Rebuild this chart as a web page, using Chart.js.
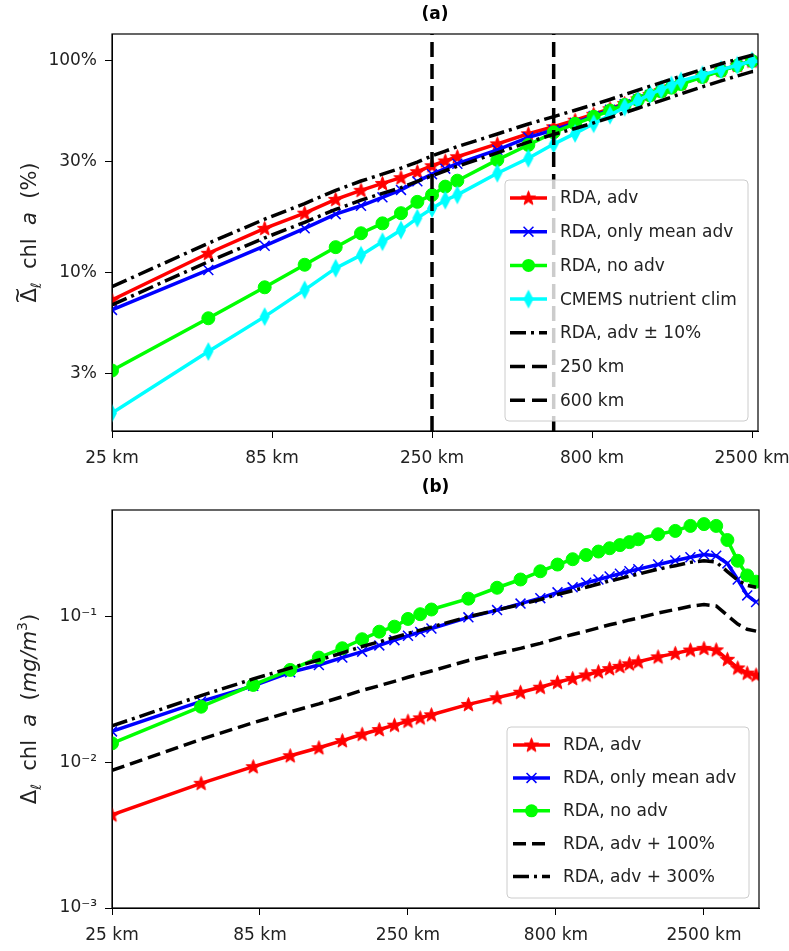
<!DOCTYPE html>
<html lang="en">
<head>
  <meta charset="UTF-8">
  <title>RDA chl a variability vs scale</title>
  <script src="https://cdn.jsdelivr.net/npm/chart.js"></script>
  <style>
   body   { margin: 0; background: #fff; }
   canvas { display: block; }
  </style>
</head>
<body>
  <canvas id="chartA" width="789" height="470"></canvas>
  <canvas id="chartB" width="789" height="481"></canvas>

<script>
// ---- panel (a): normalised chl a variability (%) ----
const kmA         = [25,50,75,100,125,150,175,200,225,250,275,300,400,500,600,700,800,900,1000,1100,1200,1300,1400,1500,1750,2000,2250,2500,2750];
const advA        = [7.43,12.35,16.2,19.1,22.2,24.5,26.4,28.1,30.0,32.0,33.7,35.3,40.6,45.3,48.9,52.5,56.0,59.5,63.0,66.3,69.5,72.5,75.5,78.3,85.0,90.5,95.5,100,98];
const meanAdvA    = [6.67,10.3,13.4,16.2,18.9,20.7,22.7,24.6,27.0,29.2,31.0,32.7,38.0,43.6,47.2,51.0,55.0,58.8,62.5,65.8,69.0,72.0,75.0,78.0,84.5,90.0,95.3,100,98];
const noAdvA      = [3.45,6.09,8.53,10.9,13.2,15.35,17.1,19.1,21.6,23.3,25.5,27.2,34.1,40.1,46.0,50.5,54.5,58.3,62.0,65.5,68.8,71.8,74.8,77.8,84.0,89.8,95.0,100,97];
const cmemsA      = [2.17,4.24,6.2,8.29,10.5,12.1,14.0,15.9,18.1,20.1,22.0,23.3,29.5,34.7,40.5,45.5,50.5,55.5,60.5,65.0,69.5,73.5,77.0,80.5,86.0,91.0,95.5,100,99];
const advPlus10A  = [8.59,13.77,17.9,21.2,24.5,27.1,29.2,31.2,33.3,35.6,37.5,39.4,45.2,50.4,54.6,58.5,62.2,65.8,69.4,72.8,76.0,79.0,82.0,84.7,91.3,97.0,102.0,106.5,108];
const advMinus10A = [7.04,11.27,14.6,17.3,19.9,22.0,23.7,25.2,27.0,28.7,30.3,31.8,36.8,41.4,45.0,48.0,51.0,54.0,57.0,59.8,62.5,65.0,67.5,70.0,75.5,80.5,85.0,89.0,90];
const vlineKm     = [250, 600];

// ---- panel (b): chl a variability (mg/m^3) ----
const kmB      = [25,50,75,100,125,150,175,200,225,250,275,300,400,500,600,700,800,900,1000,1100,1200,1300,1400,1500,1750,2000,2250,2500,2750,3000,3250,3500,3750];
const advB     = [0.00436,0.00718,0.00934,0.0111,0.0126,0.0141,0.0156,0.0168,0.0180,0.0192,0.0202,0.0212,0.0250,0.0278,0.0303,0.0328,0.0355,0.0377,0.0398,0.0419,0.0440,0.0456,0.0475,0.0490,0.0530,0.0560,0.0590,0.0606,0.0592,0.0510,0.0445,0.0410,0.0398];
const meanAdvB = [0.0163,0.0262,0.0335,0.0415,0.0466,0.0524,0.0575,0.0635,0.0690,0.0740,0.0785,0.0830,0.0990,0.111,0.123,0.134,0.147,0.159,0.171,0.180,0.189,0.197,0.205,0.212,0.228,0.243,0.256,0.267,0.262,0.232,0.180,0.140,0.126];
const noAdvB   = [0.0135,0.0241,0.0340,0.0431,0.0524,0.0607,0.0700,0.0789,0.0854,0.0965,0.104,0.112,0.133,0.158,0.180,0.205,0.228,0.248,0.265,0.280,0.295,0.310,0.325,0.340,0.368,0.388,0.420,0.432,0.420,0.336,0.242,0.192,0.174];
const adv100B  = [0.0088,0.0144,0.0187,0.0222,0.0252,0.0282,0.0312,0.0336,0.0360,0.0384,0.0404,0.0424,0.0500,0.0556,0.0606,0.0656,0.0710,0.0754,0.0796,0.0838,0.0880,0.0912,0.0950,0.0980,0.1060,0.1120,0.1180,0.1212,0.1184,0.1020,0.0890,0.0820,0.0796];
const adv300B  = [0.0178,0.0287,0.0374,0.0444,0.0504,0.0564,0.0624,0.0672,0.0720,0.0768,0.0808,0.0848,0.1000,0.1112,0.1212,0.1312,0.1420,0.1508,0.1592,0.1676,0.1760,0.1824,0.1900,0.1960,0.2120,0.2240,0.2360,0.2424,0.2368,0.2040,0.1780,0.1640,0.1592];

// ---- ticks and axis limits ----
const xTickVals    = [25, 79.06, 250, 790.6, 2500];
const xTickLabels  = ['25 km', '85 km', '250 km', '800 km', '2500 km'];
const yTickValsA   = [3.333, 10, 33.33, 100];
const yTickLabelsA = ['3%', '10%', '30%', '100%'];
const yTickValsB   = [0.001, 0.01, 0.1];
const yTickLabelsB = ['10\u207B\u00B3', '10\u207B\u00B2', '10\u207B\u00B9'];
const xLimA = [25, 2610], yLimA = [1.787, 134.1];
const xLimB = [25, 3836], yLimB = [0.001, 0.54];

const FONT = '"DejaVu Sans", "Liberation Sans", sans-serif';
const DASHDOT = [16, 5, 3, 5];
const LW = 3.5;

// small marker bitmaps for the matplotlib '*' and 'd' symbols
function starMarker(color, r) {
  const s = Math.ceil(2 * r + 2), c = document.createElement('canvas');
  c.width = s; c.height = s;
  const g = c.getContext('2d');
  g.translate(s / 2, s / 2 + 0.5); g.beginPath();
  for (let i = 0; i < 10; i++) {
    const rr = i % 2 ? r * 0.42 : r, a = -Math.PI / 2 + i * Math.PI / 5;
    g.lineTo(rr * Math.cos(a), rr * Math.sin(a));
  }
  g.closePath(); g.fillStyle = color; g.fill();
  g.strokeStyle = color; g.lineWidth = 1; g.stroke();
  return c;
}
function thinDiamond(color, w, h) {
  const c = document.createElement('canvas');
  c.width = w + 2; c.height = h + 2;
  const g = c.getContext('2d');
  g.beginPath(); g.moveTo(w / 2 + 1, 1); g.lineTo(w + 1, h / 2 + 1); g.lineTo(w / 2 + 1, h + 1); g.lineTo(1, h / 2 + 1); g.closePath();
  g.fillStyle = color; g.fill();
  return c;
}
const redStar  = starMarker('#ff0000', 7.5);
const cyanDiam = thinDiamond('#00ffff', 10, 19);

const pts = (xs, ys) => xs.map((x, i) => ({ x: x, y: ys[i] }));

function series(label, xs, ys, color, extra) {
  return Object.assign({
    label: label, data: pts(xs, ys), borderColor: color, backgroundColor: color,
    pointBackgroundColor: color, pointBorderColor: color, pointBorderWidth: 1,
    borderWidth: LW, pointRadius: 0, tension: 0, fill: false, clip: 0
  }, extra || {});
}

function logAxis(lim, vals, labels, fitSize, isX) {
  return {
    type: 'logarithmic', min: lim[0], max: lim[1], bounds: 'data',
    afterBuildTicks: s => { s.ticks = vals.map(v => ({ value: v })); },
    afterFit: s => {
      if (isX) { s.height = fitSize; s.paddingLeft = 0; s.paddingRight = 0; }
      else     { s.width = fitSize;  s.paddingTop = 0;  s.paddingBottom = 0; }
    },
    ticks: { autoSkip: false, maxRotation: 0, color: '#222', padding: isX ? 10 : 8,
             font: { family: FONT, size: 17 }, callback: (v, i) => labels[i] },
    grid: { drawOnChartArea: false, drawTicks: true, tickLength: 7, color: '#000', tickColor: '#000' },
    border: { display: true, color: '#000', width: 1 }
  };
}

// rotated y label with italic / sub / superscript / accent pieces
function drawYLabel(ctx, parts, x, y) {
  ctx.save();
  ctx.translate(x, y); ctx.rotate(-Math.PI / 2);
  ctx.textAlign = 'left'; ctx.textBaseline = 'alphabetic'; ctx.fillStyle = '#222';
  const fontOf = p => (p.italic ? 'italic ' : '') + (p.size || 21) + 'px ' + FONT;
  let total = 0;
  parts.forEach(p => { ctx.font = fontOf(p); total += ctx.measureText(p.t).width; });
  let cx = -total / 2;
  parts.forEach(p => {
    ctx.font = fontOf(p);
    const w = ctx.measureText(p.t).width;
    ctx.fillText(p.t, cx, 7 + (p.dy || 0));
    if (p.accent) {
      ctx.textAlign = 'center';
      ctx.fillText(p.accent, cx + w / 2, -5);
      ctx.textAlign = 'left';
    }
    cx += w;
  });
  ctx.restore();
}

function drawMarker(ctx, d, x, y) {
  const ps = d.pointStyle, r = d.pointRadius;
  if (ps instanceof HTMLCanvasElement) { ctx.drawImage(ps, x - ps.width / 2, y - ps.height / 2); return; }
  ctx.setLineDash([]);
  if (ps === 'circle') {
    ctx.fillStyle = d.pointBackgroundColor; ctx.beginPath(); ctx.arc(x, y, r, 0, 2 * Math.PI); ctx.fill();
  } else if (ps === 'crossRot') {
    const k = r * Math.SQRT1_2;
    ctx.strokeStyle = d.pointBorderColor; ctx.lineWidth = d.pointBorderWidth; ctx.beginPath();
    ctx.moveTo(x - k, y - k); ctx.lineTo(x + k, y + k); ctx.moveTo(x - k, y + k); ctx.lineTo(x + k, y - k); ctx.stroke();
  }
}

function drawLegend(chart, L) {
  const ctx = chart.ctx;
  const items = chart.data.datasets.filter(d => !d.noLegend);
  ctx.save();
  ctx.beginPath();
  if (ctx.roundRect) ctx.roundRect(L.x, L.y, L.w, L.h, 4); else ctx.rect(L.x, L.y, L.w, L.h);
  ctx.fillStyle = 'rgba(255,255,255,0.8)'; ctx.fill();
  ctx.strokeStyle = '#cccccc'; ctx.lineWidth = 1; ctx.stroke();
  ctx.font = '17px ' + FONT; ctx.textAlign = 'left'; ctx.textBaseline = 'middle';
  items.forEach((d, i) => {
    const cy = L.y + L.first + i * L.row;
    ctx.strokeStyle = d.borderColor; ctx.lineWidth = d.borderWidth; ctx.setLineDash(d.borderDash || []);
    ctx.beginPath(); ctx.moveTo(L.x + L.h0, cy); ctx.lineTo(L.x + L.h1, cy); ctx.stroke();
    if (d.pointRadius > 0) drawMarker(ctx, d, L.x + (L.h0 + L.h1) / 2, cy);
    ctx.setLineDash([]);
    ctx.fillStyle = '#222'; ctx.fillText(d.label, L.x + L.tx, cy + 1);
  });
  ctx.restore();
}

const decor = {
  id: 'decor',
  afterDraw(chart, args, o) {
    const ctx = chart.ctx, a = chart.chartArea;
    ctx.save();
    ctx.strokeStyle = '#000'; ctx.lineWidth = 1.2; ctx.setLineDash([]);
    ctx.strokeRect(a.left, a.top, a.right - a.left, a.bottom - a.top);
    ctx.fillStyle = '#000'; ctx.font = 'bold 17px ' + FONT;
    ctx.textAlign = 'center'; ctx.textBaseline = 'middle';
    ctx.fillText(o.title, (a.left + a.right) / 2, o.titleY);
    ctx.restore();
    drawYLabel(ctx, o.ylabel, o.ylabelX, (a.top + a.bottom) / 2);
    drawLegend(chart, o.legend);
  }
};

function baseOptions(pad, xAxis, yAxis, decorOpts) {
  return {
    responsive: false, animation: false, events: [],
    layout: { padding: pad },
    scales: { x: xAxis, y: yAxis },
    plugins: { legend: { display: false }, tooltip: { enabled: false }, decor: decorOpts }
  };
}

// ---- panel (a) ----
const dsA = [
  series('RDA, adv', kmA, advA, '#ff0000', { pointStyle: redStar, pointRadius: 7, order: 8 }),
  series('RDA, only mean adv', kmA, meanAdvA, '#0000ff', { pointStyle: 'crossRot', pointRadius: 7, pointBorderWidth: 1.5, order: 7 }),
  series('RDA, no adv', kmA, noAdvA, '#00ff00', { pointStyle: 'circle', pointRadius: 6.5, order: 6 }),
  series('CMEMS nutrient clim', kmA, cmemsA, '#00ffff', { pointStyle: cyanDiam, pointRadius: 9, order: 5 }),
  series('RDA, adv \u00B1 10%', kmA, advPlus10A, '#000000', { borderDash: DASHDOT, order: 4 }),
  series('RDA, adv - 10%', kmA, advMinus10A, '#000000', { borderDash: DASHDOT, order: 3, noLegend: true }),
  series('250 km', [vlineKm[0], vlineKm[0]], yLimA, '#000000', { borderDash: [15, 7], order: 2 }),
  series('600 km', [vlineKm[1], vlineKm[1]], yLimA, '#000000', { borderDash: [15, 7], order: 1 })
];

new Chart(document.getElementById('chartA'), {
  type: 'line',
  data: { datasets: dsA },
  options: baseOptions({ top: 34, right: 31, left: 0, bottom: 0 },
    logAxis(xLimA, xTickVals, xTickLabels, 39, true),
    logAxis(yLimA, yTickValsA, yTickLabelsA, 112, false),
    { title: '(a)', titleY: 15, ylabelX: 29,
      ylabel: [{ t: '\u0394', accent: '~' }, { t: '\u2113', size: 14, dy: 5 }, { t: '  chl  ' }, { t: 'a', italic: true }, { t: '  (%)' }],
      legend: { x: 505, y: 180, w: 243, h: 241, first: 18, row: 33.7, h0: 5, h1: 42, tx: 55 } }),
  plugins: [decor]
});

// ---- panel (b) ----
const dsB = [
  series('RDA, adv', kmB, advB, '#ff0000', { pointStyle: redStar, pointRadius: 7, order: 5 }),
  series('RDA, only mean adv', kmB, meanAdvB, '#0000ff', { pointStyle: 'crossRot', pointRadius: 7, pointBorderWidth: 1.5, order: 4 }),
  series('RDA, no adv', kmB, noAdvB, '#00ff00', { pointStyle: 'circle', pointRadius: 6.5, order: 3 }),
  series('RDA, adv + 100%', kmB, adv100B, '#000000', { borderDash: [13, 6], order: 2 }),
  series('RDA, adv + 300%', kmB, adv300B, '#000000', { borderDash: DASHDOT, order: 1 })
];

new Chart(document.getElementById('chartB'), {
  type: 'line',
  data: { datasets: dsB },
  options: baseOptions({ top: 40, right: 30, left: 0, bottom: 0 },
    logAxis(xLimB, xTickVals, xTickLabels, 43, true),
    logAxis(yLimB, yTickValsB, yTickLabelsB, 112, false),
    { title: '(b)', titleY: 18, ylabelX: 29,
      ylabel: [{ t: '\u0394' }, { t: '\u2113', size: 14, dy: 5 }, { t: '  chl  ' }, { t: 'a', italic: true }, { t: '  (' },
               { t: 'mg/m', italic: true }, { t: '3', size: 14, dy: -9 }, { t: ')' }],
      legend: { x: 507, y: 257, w: 242, h: 171, first: 18, row: 32.9, h0: 6, h1: 43, tx: 56 } }),
  plugins: [decor]
});
</script>
</body>
</html>
